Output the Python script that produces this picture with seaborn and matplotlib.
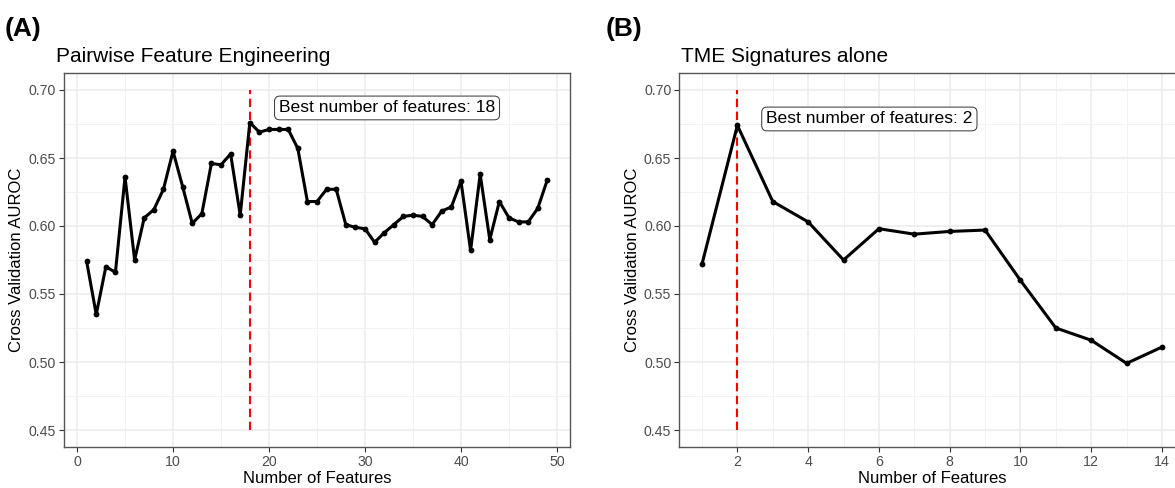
"""
Cross-validation AUROC against the number of selected features for two
feature sets: pairwise feature engineering (A) and TME signatures alone (B).
"""

import pandas as pd
import seaborn as sns
import matplotlib.pyplot as plt
from matplotlib.ticker import MultipleLocator, FormatStrFormatter

# Panel A: pairwise feature engineering
pairwise_n_features = list(range(1, 50))
pairwise_auroc = [
    0.574, 0.535, 0.570, 0.566, 0.636, 0.575, 0.606, 0.612, 0.627, 0.655,
    0.629, 0.602, 0.609, 0.646, 0.645, 0.653, 0.608, 0.676, 0.669, 0.671,
    0.671, 0.671, 0.657, 0.618, 0.618, 0.627, 0.627, 0.601, 0.599, 0.598,
    0.588, 0.595, 0.601, 0.607, 0.608, 0.607, 0.601, 0.611, 0.614, 0.633,
    0.582, 0.638, 0.590, 0.618, 0.606, 0.603, 0.603, 0.613, 0.634,
]
pairwise_best = 18

# Panel B: TME signatures alone
tme_n_features = list(range(1, 15))
tme_auroc = [
    0.572, 0.674, 0.618, 0.603, 0.575, 0.598, 0.594, 0.596, 0.597, 0.560,
    0.525, 0.516, 0.499, 0.511,
]
tme_best = 2

panel_tags = ['(A)', '(B)']
panel_titles = ['Pairwise Feature Engineering', 'TME Signatures alone']

W, H = 1175, 488


def px(x, y):
    # pixel position (from top-left) -> figure fraction
    return x / W, 1 - y / H


def draw_panel(ax, n_features, auroc, best, xlim, major, minor, label_xy):
    df = pd.DataFrame({'n_features': n_features, 'auroc': auroc})

    ax.set_facecolor('white')
    ax.vlines(best, 0.45, 0.70, color='#FF0000', linewidth=1.5,
              linestyles=(0, (4, 2.2)), zorder=2)
    sns.lineplot(data=df, x='n_features', y='auroc', ax=ax, color='black',
                 linewidth=2.2, marker='o', markersize=4.2,
                 markeredgewidth=0, zorder=3)

    ax.text(label_xy[0], label_xy[1], f'Best number of features: {best}',
            ha='center', va='center', fontsize=12.6, color='black', zorder=4,
            bbox=dict(boxstyle='round,pad=0.25,rounding_size=0.3',
                      fc='white', ec='#333333', lw=0.7))

    ax.set_xlim(*xlim)
    ax.set_ylim(0.4375, 0.7125)
    ax.xaxis.set_major_locator(MultipleLocator(major))
    ax.xaxis.set_minor_locator(MultipleLocator(minor))
    ax.yaxis.set_major_locator(MultipleLocator(0.05))
    ax.yaxis.set_minor_locator(MultipleLocator(0.025))
    ax.yaxis.set_major_formatter(FormatStrFormatter('%.2f'))

    ax.grid(which='major', color='#EBEBEB', linewidth=1.1)
    ax.grid(which='minor', color='#F2F2F2', linewidth=0.7)
    ax.set_axisbelow(True)

    ax.tick_params(which='major', bottom=True, left=True, direction='out',
                   length=3.5, width=0.8, color='#333333', labelsize=10.2,
                   labelcolor='#4D4D4D', pad=2)
    ax.tick_params(which='minor', bottom=False, left=False, length=0)
    for side in ax.spines.values():
        side.set_color('#555555')
        side.set_linewidth(1.0)

    ax.set_xlabel('Number of Features', fontsize=12, color='black', labelpad=2)
    ax.set_ylabel('Cross Validation AUROC', fontsize=12, color='black', labelpad=3)


def main():
    sns.set_theme(style='whitegrid')
    plt.rcParams['font.family'] = ['Liberation Sans', 'DejaVu Sans']

    fig = plt.figure(figsize=(W / 100, H / 100), dpi=100)
    fig.patch.set_facecolor('white')

    ax_a = fig.add_axes([63.6 / W, (H - 447) / H, 506.8 / W, 374 / H])
    ax_b = fig.add_axes([679 / W, (H - 447) / H, 506 / W, 374 / H])

    draw_panel(ax_a, pairwise_n_features, pairwise_auroc, pairwise_best,
               (-1.4, 51.4), 10, 5, (32.3, 0.6868))
    draw_panel(ax_b, tme_n_features, tme_auroc, tme_best,
               (0.35, 14.65), 2, 1, (5.73, 0.6787))

    # panel tags and titles
    for tag_x, title_x, tag, title in zip([5, 606], [56, 681], panel_tags, panel_titles):
        fig.text(*px(tag_x, 36), tag, fontsize=19, fontweight='bold',
                 color='black', va='baseline')
        fig.text(*px(title_x, 61.5), title, fontsize=15, color='black',
                 va='baseline')

    fig.savefig('out.png', dpi=100, facecolor='white')


if __name__ == '__main__':
    main()
